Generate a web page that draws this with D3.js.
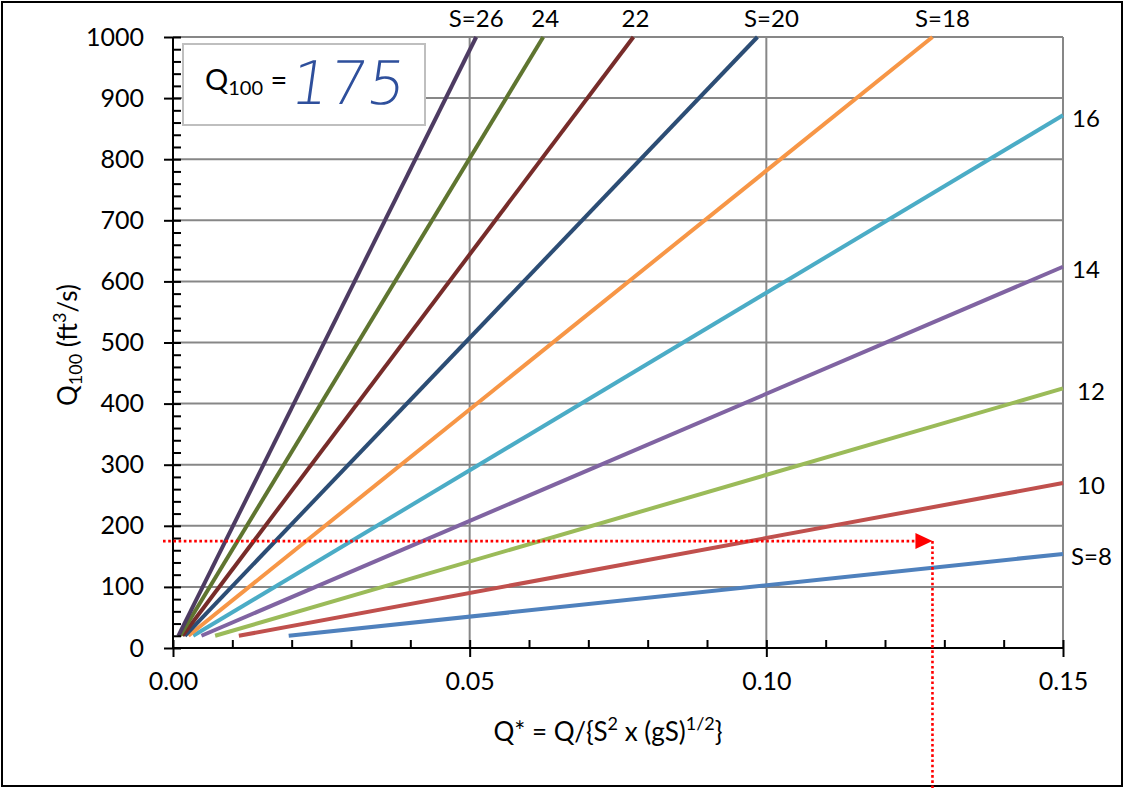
<!DOCTYPE html>
<html>
<head>
<meta charset="utf-8">
<script src="https://cdn.jsdelivr.net/npm/d3@7"></script>
<style>
  body { margin: 0; background: #fff; }
  text { font-family: Lato, "Open Sans", sans-serif; fill: #000; }
</style>
</head>
<body>
<div id="chart"></div>
<script>
// slope lines: start point and end point of each
var slopes   = [8, 10, 12, 14, 16, 18, 20, 22, 24, 26];
var labels   = ["S=8", "10", "12", "14", "16", "S=18", "S=20", "22", "24", "S=26"];
var startQs  = [0.0195, 0.0111, 0.0071, 0.0048, 0.0034, 0.0026, 0.0020, 0.0016, 0.0012, 0.0009];
var startQ   = [20, 20, 20, 20, 20, 20, 20, 20, 20, 20];
var endQs    = [0.15, 0.15, 0.15, 0.15, 0.15, 0.128, 0.0985, 0.0776, 0.0624, 0.0511];
var endQ     = [154, 270, 425, 624, 872, 1000, 1000, 1000, 1000, 1000];
var colors   = ["#4F81BD", "#C0504D", "#9BBB59", "#8064A2", "#4BACC6",
                "#F79646", "#2C4D75", "#772C2A", "#5F7530", "#4D3B62"];

var yMajor = [0, 100, 200, 300, 400, 500, 600, 700, 800, 900, 1000];
var xMajor = [0, 0.05, 0.10, 0.15];

// the reading drawn in red
var readQ = 175, readQs = 0.128;

var width = 1124, height = 788;

var svg = d3.select("#chart").append("svg")
	.attr("width", width)
	.attr("height", height);

var X = d3.scaleLinear().domain([0, 0.15]).range([173, 1063]);
var Y = d3.scaleLinear().domain([0, 1000]).range([648, 37]);

svg.append("rect")
	.attr("x", 2).attr("y", 2)
	.attr("width", width - 4).attr("height", height - 4)
	.style("fill", "#fff").style("stroke", "#000").style("stroke-width", 2);

// grid
svg.selectAll(".hgrid").data(yMajor.filter(function(d){ return d > 0; })).enter().append("line")
	.attr("x1", X(0)).attr("x2", X(0.15))
	.attr("y1", function(d){ return Y(d); }).attr("y2", function(d){ return Y(d); })
	.style("stroke", "#878787").style("stroke-width", 2);

svg.selectAll(".vgrid").data(xMajor.filter(function(d){ return d > 0; })).enter().append("line")
	.attr("x1", function(d){ return X(d); }).attr("x2", function(d){ return X(d); })
	.attr("y1", Y(0)).attr("y2", Y(1000))
	.style("stroke", "#878787").style("stroke-width", 2);

// series
var series = slopes.map(function(s, i){
	return { s: s, label: labels[i], color: colors[i],
		pts: [{x: startQs[i], y: startQ[i]}, {x: endQs[i], y: endQ[i]}] };
});

var line = d3.line()
	.x(function(d){ return X(d.x); })
	.y(function(d){ return Y(d.y); });

svg.selectAll(".series").data(series).enter().append("path")
	.attr("d", function(d){ return line(d.pts); })
	.style("fill", "none")
	.style("stroke", function(d){ return d.color; })
	.style("stroke-width", 4);

// series labels: ones that leave through the top, ones that leave at the right
var topDx = {18: 10, 20: 14, 22: 2, 24: 2, 26: 0};
svg.selectAll(".toplabel").data(series.filter(function(d){ return d.pts[1].y >= 1000; })).enter().append("text")
	.attr("x", function(d){ return X(d.pts[1].x) + topDx[d.s]; })
	.attr("y", 27)
	.attr("text-anchor", "middle")
	.style("font-size", "24px")
	.text(function(d){ return d.label; });

var rightDx = {8: 8, 10: 14, 12: 14, 14: 9, 16: 9};
svg.selectAll(".rightlabel").data(series.filter(function(d){ return d.pts[1].y < 1000; })).enter().append("text")
	.attr("x", function(d){ return X(0.15) + rightDx[d.s]; })
	.attr("y", function(d){ return Y(d.pts[1].y) + 3; })
	.attr("dy", "0.35em")
	.style("font-size", "24px")
	.text(function(d){ return d.label; });

// axes
var yAxis = svg.append("g").attr("transform", "translate(" + X(0) + ",0)")
	.call(d3.axisLeft(Y).tickValues(yMajor).tickSize(9).tickPadding(20).tickFormat(d3.format("d")));
yAxis.select(".domain").attr("d", "M0," + Y(0) + "V" + Y(1000)).style("stroke-width", 2);
yAxis.selectAll(".tick line").attr("x2", -9).attr("x1", 8).style("stroke-width", 2);
yAxis.selectAll(".tick text").style("font-size", "25px").style("font-family", "Lato, 'Open Sans', sans-serif");

var yMinor = d3.range(20, 1000, 20).filter(function(d){ return d % 100 != 0; });
svg.append("g").attr("transform", "translate(" + X(0) + ",0)")
	.call(d3.axisRight(Y).tickValues(yMinor).tickSize(8).tickFormat(""))
	.call(function(g){ g.select(".domain").remove(); })
	.selectAll("line").style("stroke-width", 2);

var xAxis = svg.append("g").attr("transform", "translate(0," + Y(0) + ")")
	.call(d3.axisBottom(X).tickValues(xMajor).tickSize(9).tickPadding(15).tickFormat(d3.format(".2f")));
xAxis.select(".domain").attr("d", "M" + X(0) + ",0H" + X(0.15)).style("stroke-width", 2);
xAxis.selectAll(".tick line").attr("y1", -8).style("stroke-width", 2);
xAxis.selectAll(".tick text").style("font-size", "25px").style("font-family", "Lato, 'Open Sans', sans-serif");

var xMinor = d3.range(1, 15).map(function(i){ return i / 100; }).filter(function(d, i){ return (i + 1) % 5 != 0; });
svg.append("g").attr("transform", "translate(0," + Y(0) + ")")
	.call(d3.axisTop(X).tickValues(xMinor).tickSize(8).tickFormat(""))
	.call(function(g){ g.select(".domain").remove(); })
	.selectAll("line").style("stroke-width", 2);

// axis titles
var yt = svg.append("text")
	.attr("transform", "translate(77,345) rotate(-90)")
	.attr("text-anchor", "middle")
	.style("font-size", "26px");
yt.append("tspan").text("Q");
yt.append("tspan").attr("baseline-shift", "-25%").style("font-size", "18px").text("100");
yt.append("tspan").text(" (ft");
yt.append("tspan").attr("baseline-shift", "super").style("font-size", "18px").text("3");
yt.append("tspan").text("/s)");

var xt = svg.append("text")
	.attr("x", 608).attr("y", 741)
	.attr("text-anchor", "middle")
	.style("font-size", "26px");
xt.append("tspan").text("Q* = Q/{S");
xt.append("tspan").attr("baseline-shift", "super").style("font-size", "18px").text("2");
xt.append("tspan").text(" x (gS)");
xt.append("tspan").attr("baseline-shift", "super").style("font-size", "18px").text("1/2");
xt.append("tspan").text("}");

// red reading lines
var ry = Y(readQ), rx = X(readQs);
svg.append("line")
	.attr("x1", X(0) - 10).attr("x2", rx - 16)
	.attr("y1", ry).attr("y2", ry)
	.style("stroke", "#FF0000").style("stroke-width", 2.6).style("stroke-dasharray", "2.6,2.6");
svg.append("path")
	.attr("d", "M" + (rx - 17) + "," + (ry - 8) + "L" + rx + "," + ry + "L" + (rx - 17) + "," + (ry + 8) + "Z")
	.style("fill", "#FF0000");
svg.append("line")
	.attr("x1", rx).attr("x2", rx)
	.attr("y1", ry).attr("y2", height)
	.style("stroke", "#FF0000").style("stroke-width", 2.6).style("stroke-dasharray", "2.6,2.6");

// Q100 box
svg.append("rect")
	.attr("x", 183).attr("y", 44).attr("width", 242).attr("height", 81)
	.style("fill", "#fff").style("stroke", "#BFBFBF").style("stroke-width", 2);

var qt = svg.append("text")
	.attr("x", 205).attr("y", 90)
	.style("font-size", "29px");
qt.append("tspan").text("Q");
qt.append("tspan").attr("baseline-shift", "-25%").style("font-size", "20px").text("100");
qt.append("tspan").text(" =");

svg.append("text")
	.attr("x", 289).attr("y", 104)
	.attr("transform", "skewX(-8) translate(14,0)")
	.style("font-family", "'DejaVu Sans', sans-serif")
	.style("font-weight", 200)
	.style("font-size", "60px")
	.style("fill", "#2E4F9C")
	.text("175");
</script>
</body>
</html>
